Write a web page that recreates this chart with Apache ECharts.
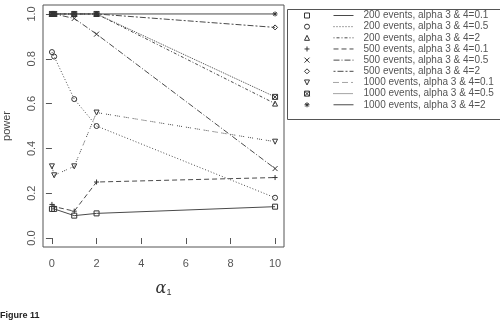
<!DOCTYPE html>
<html>
<head>
<meta charset="utf-8">
<script src="https://cdn.jsdelivr.net/npm/echarts@6/dist/echarts.min.js"></script>
<style>
  html, body { margin: 0; padding: 0; background: #fff; }
  #main { width: 500px; height: 322px; }
</style>
</head>
<body>
<div id="main"></div>
<script>
// alpha_1 values (two points very close at 0)
var alpha1 = [0, 0.1, 1, 2, 10];

var p200_01 = [0.13, 0.13, 0.10, 0.11, 0.14];
var p200_05 = [0.83, 0.81, 0.62, 0.50, 0.18];
var p200_2 = [1.00, 1.00, 1.00, 1.00, 0.60];
var p500_01 = [0.15, 0.14, 0.12, 0.25, 0.27];
var p500_05 = [1.00, 1.00, 0.98, 0.91, 0.31];
var p500_2 = [1.00, 1.00, 1.00, 1.00, 0.94];
var p1000_01 = [0.32, 0.28, 0.32, 0.56, 0.43];
var p1000_05 = [1.00, 1.00, 1.00, 1.00, 0.63];
var p1000_2 = [1.00, 1.00, 1.00, 1.00, 1.00];

var xTicks = [0, 2, 4, 6, 8, 10];
var yTicks = [0, 0.2, 0.4, 0.6, 0.8, 1.0];

var names = [
    '200 events, alpha 3 & 4=0.1',
    '200 events, alpha 3 & 4=0.5',
    '200 events, alpha 3 & 4=2',
    '500 events, alpha 3 & 4=0.1',
    '500 events, alpha 3 & 4=0.5',
    '500 events, alpha 3 & 4=2',
    '1000 events, alpha 3 & 4=0.1',
    '1000 events, alpha 3 & 4=0.5',
    '1000 events, alpha 3 & 4=2'
];
var values = [p200_01, p200_05, p200_2, p500_01, p500_05, p500_2, p1000_01, p1000_05, p1000_2];

var symbols = [
    'rect',
    'circle',
    'triangle',
    'path://M5,0L5,10M0,5L10,5',
    'path://M0,0L10,10M10,0L0,10',
    'diamond',
    'path://M0,0L10,0L5,8.7Z',
    'path://M0,0L10,0L10,10L0,10ZM0,0L10,10M10,0L0,10',
    'path://M5,0L5,10M0,5L10,5M1.5,1.5L8.5,8.5M8.5,1.5L1.5,8.5'
];
var dashes = [
    'solid',
    [1, 2],
    [1, 2, 3, 2],
    [5, 3],
    [6, 2, 1, 2],
    [2, 2, 6, 2],
    [1, 1, 1, 1, 1, 4],
    [1, 1],
    'solid'
];

var ink = '#4a4a4a';

var series = names.map(function (n, i) {
    return {
        name: n,
        type: 'line',
        data: alpha1.map(function (a, j) { return [a, values[i][j]]; }),
        symbol: symbols[i],
        symbolSize: 5,
        showAllSymbol: true,
        itemStyle: {color: 'rgba(0,0,0,0)', borderColor: '#333', borderWidth: 1},
        lineStyle: {color: ink, width: 1, type: dashes[i]},
        emphasis: {disabled: true},
        animation: false
    };
});

var chart = echarts.init(document.getElementById('main'));
chart.setOption({
    animation: false,
    grid: {left: 41, top: 5, width: 243, height: 242, show: true, borderColor: '#555', borderWidth: 1},
    xAxis: {
        type: 'value', min: -0.4, max: 10.4,
        axisLine: {show: false},
        splitLine: {show: false},
        axisTick: {show: true, length: 6, customValues: xTicks, lineStyle: {color: '#555'}},
        axisLabel: {customValues: xTicks, margin: 11, fontSize: 11, color: '#555', fontFamily: 'Liberation Sans'},
        name: '{a|α}{s|1}',
        nameLocation: 'middle',
        nameGap: 33,
        nameTextStyle: {
            rich: {
                a: {fontFamily: 'DejaVu Serif', fontStyle: 'italic', fontSize: 16, color: '#333'},
                s: {fontFamily: 'Liberation Sans', fontSize: 9, color: '#333', padding: [8, 0, 0, 0]}
            }
        }
    },
    yAxis: {
        type: 'value', min: -0.04, max: 1.04,
        axisLine: {show: false},
        splitLine: {show: false},
        axisTick: {show: true, length: 6, customValues: yTicks, lineStyle: {color: '#555'}},
        axisLabel: {customValues: yTicks, rotate: 90, margin: 6, fontSize: 11, color: '#555', fontFamily: 'Liberation Sans',
            formatter: function (v) { return v.toFixed(1); }},
        name: 'power',
        nameLocation: 'middle',
        nameRotate: 90,
        nameGap: 31,
        nameTextStyle: {fontSize: 11, color: '#444', fontFamily: 'Liberation Sans'}
    },
    legend: [{
        // symbol column
        orient: 'vertical', left: 303, top: 10, padding: 0,
        itemWidth: 6, itemHeight: 6.25, itemGap: 0.16,
        selectedMode: false,
        lineStyle: {opacity: 0},
        itemStyle: {borderWidth: 1},
        formatter: function () { return ' '; },
        textStyle: {fontSize: 10, lineHeight: 11}
    }, {
        // line sample + text column
        orient: 'vertical', left: 333, top: 10, padding: 0,
        itemWidth: 20, itemHeight: 8, itemGap: 0.16,
        selectedMode: false,
        itemStyle: {opacity: 0},
        lineStyle: {width: 1},
        textStyle: {fontSize: 10, lineHeight: 11, color: '#555', fontFamily: 'Liberation Sans', padding: [0, 0, 0, 5]}
    }],
    graphic: [{
        type: 'rect', left: 285, top: 7,
        shape: {width: 230, height: 110},
        style: {fill: 'none', stroke: '#555', lineWidth: 1}
    }, {
        type: 'text', left: 0, top: 311,
        style: {text: 'Figure 11', font: 'bold 9px "Liberation Sans"', fill: '#222'}
    }],
    series: series
});
</script>
</body>
</html>
